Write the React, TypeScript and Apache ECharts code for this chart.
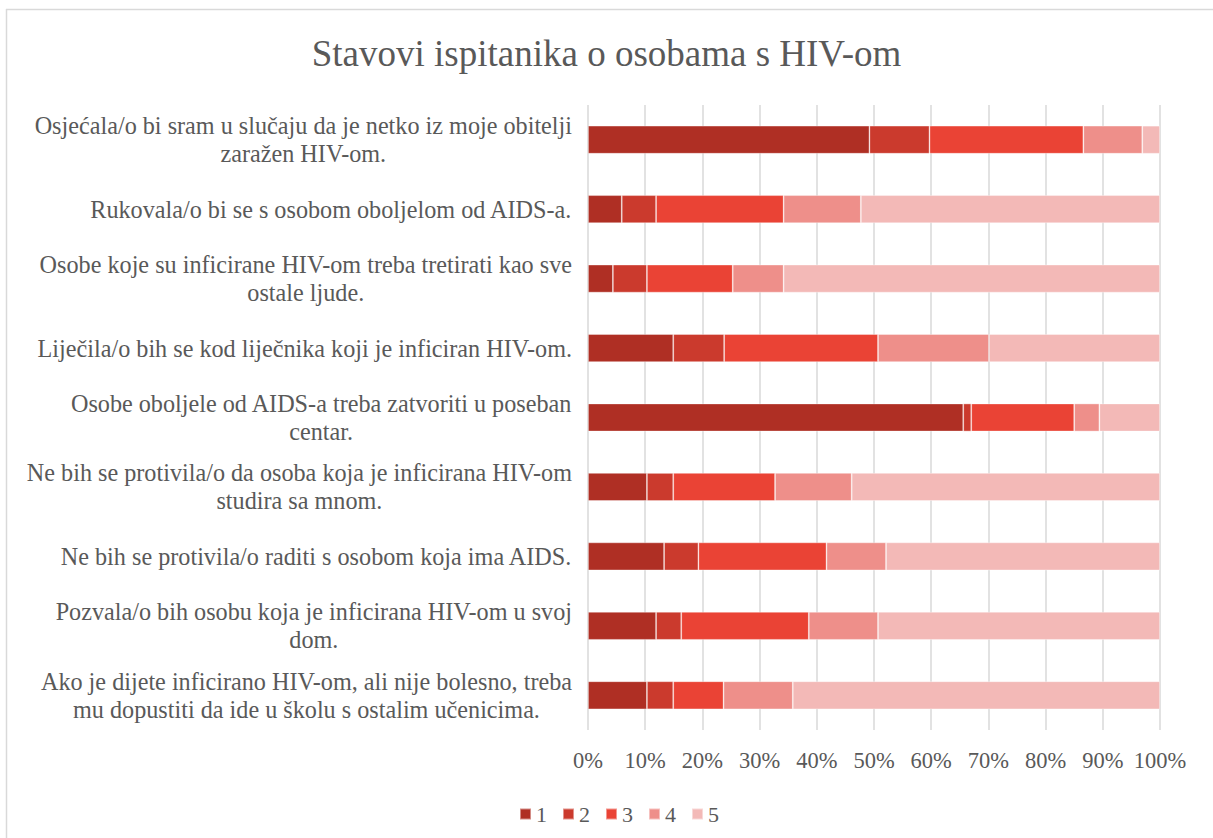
import React, { useEffect, useRef } from "react";
import * as echarts from "echarts";

const categories = [
  "Osjećala/o bi sram u slučaju da je netko iz moje obitelji\nzaražen HIV-om.",
  "Rukovala/o bi se s osobom oboljelom od AIDS-a.",
  "Osobe koje su inficirane HIV-om treba tretirati kao sve\nostale ljude.",
  "Liječila/o bih se kod liječnika koji je inficiran HIV-om.",
  "Osobe oboljele od AIDS-a treba zatvoriti u poseban\ncentar.",
  "Ne bih se protivila/o da osoba koja je inficirana HIV-om\nstudira sa mnom.",
  "Ne bih se protivila/o raditi s osobom koja ima AIDS.",
  "Pozvala/o bih osobu koja je inficirana HIV-om u svoj\ndom.",
  "Ako je dijete inficirano HIV-om, ali nije bolesno, treba\nmu dopustiti da ide u školu s ostalim učenicima.",
];

const seriesNames = ["1", "2", "3", "4", "5"];
const values1 = [49.2, 5.9, 4.35, 14.9, 65.6, 10.3, 13.3, 11.9, 10.3];
const values2 = [10.5, 6.0, 5.95, 8.9, 1.4, 4.6, 6.0, 4.4, 4.6];
const values3 = [26.9, 22.3, 15.0, 26.9, 18.0, 17.8, 22.4, 22.3, 8.8];
const values4 = [10.3, 13.5, 8.9, 19.4, 4.4, 13.4, 10.4, 12.1, 12.1];
const values5 = [3.1, 52.3, 65.8, 29.9, 10.6, 53.9, 47.9, 49.3, 64.2];
const colors = ["#AF2F24", "#CB3A2D", "#EA4335", "#EE8F8A", "#F3B9B7"];

const FONT = "'Liberation Serif', 'Times New Roman', serif";

export default function App() {
  const ref = useRef<HTMLDivElement>(null);
  useEffect(() => {
    if (!ref.current) return;
    const chart = echarts.init(ref.current, null, { renderer: "svg" });
    const allValues = [values1, values2, values3, values4, values5];
    chart.setOption({
      animation: false,
      backgroundColor: "#ffffff",
      title: {
        text: "Stavovi ispitanika o osobama s HIV-om",
        left: "center",
        top: 30,
        textStyle: { fontFamily: FONT, fontSize: 37, fontWeight: "normal", color: "#595959" },
      },
      graphic: [
        { type: "line", shape: { x1: 6, y1: 9.5, x2: 1213, y2: 9.5 }, style: { stroke: "#d9d9d9", lineWidth: 1.5 } },
        { type: "line", shape: { x1: 6.5, y1: 9, x2: 6.5, y2: 838 }, style: { stroke: "#d9d9d9", lineWidth: 1.5 } },
      ],
      legend: {
        data: seriesNames,
        left: 514,
        top: 798,
        icon: "rect",
        itemWidth: 11,
        itemHeight: 11,
        itemGap: 15,
        textStyle: { fontFamily: FONT, fontSize: 22, color: "#595959" },
      },
      grid: { left: 588, right: 53, top: 105, bottom: 108, containLabel: false },
      xAxis: {
        type: "value",
        min: 0,
        max: 100,
        interval: 10,
        axisLine: { show: false },
        axisTick: { show: false },
        splitLine: { lineStyle: { color: "#d9d9d9", width: 1.5 } },
        axisLabel: {
          formatter: "{value}%",
          margin: 19,
          fontFamily: FONT,
          fontSize: 22.5,
          color: "#595959",
        },
      },
      yAxis: {
        type: "category",
        inverse: true,
        data: categories,
        axisLine: { show: false },
        axisTick: { show: false },
        axisLabel: {
          margin: 16,
          align: "right",
          formatter: (v: string) => v.split("\n").map((l) => "{c|" + l + "}").join("\n"),
          rich: {
            c: { align: "center", fontFamily: FONT, fontSize: 24.2, color: "#595959", lineHeight: 28 },
          },
        },
      },
      series: seriesNames.map((name, i) => ({
        name,
        type: "bar",
        stack: "total",
        barWidth: 28,
        data: allValues[i],
        itemStyle: { color: colors[i], borderColor: "rgba(255,255,255,0.45)", borderWidth: 0.8 },
      })),
    });
    return () => chart.dispose();
  }, []);
  return (
    <div
      ref={ref}
      style={{ position: "fixed", left: 0, top: 0, width: 1213, height: 838 }}
    />
  );
}
